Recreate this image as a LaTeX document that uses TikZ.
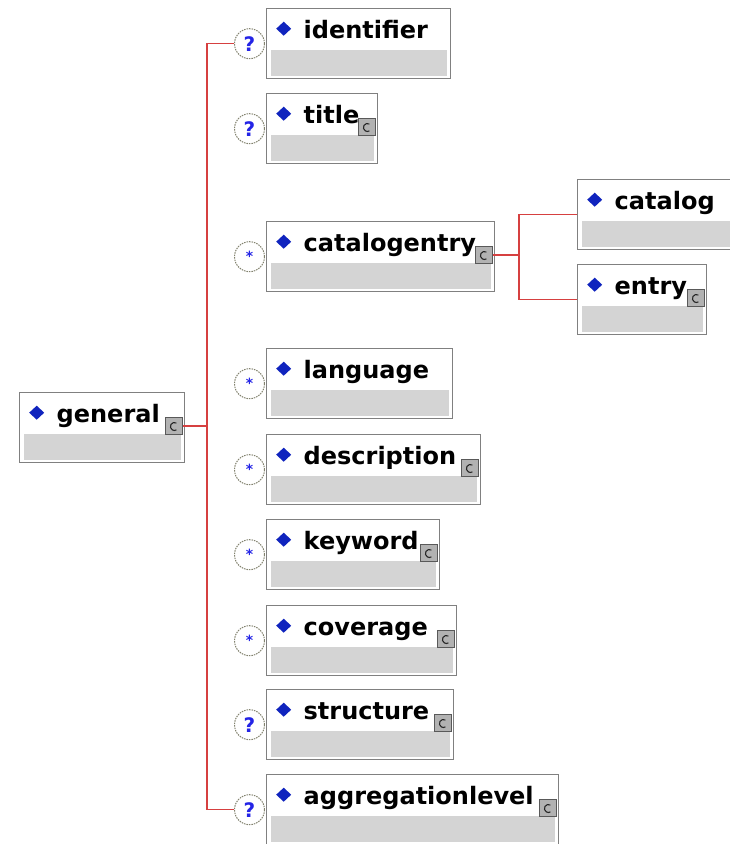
\documentclass[tikz,border=0pt]{standalone}
\usepackage{fontspec}
\setmainfont{DejaVu Sans}
\usetikzlibrary{positioning}
\definecolor{boxline}{RGB}{128,128,128}
\definecolor{boxgray}{RGB}{212,212,212}
\definecolor{dmdblue}{RGB}{16,36,190}
\definecolor{linered}{RGB}{214,64,64}
\definecolor{qblue}{RGB}{36,36,230}
\definecolor{ringgray}{RGB}{130,130,110}
\begin{document}
\begin{tikzpicture}[x=1pt, y=-1pt,
    elem/.style={draw=boxline, line width=1.4pt, fill=white, anchor=north west, inner sep=0pt,
      text width=#1, align=left, text height=30pt, text depth=40pt,
      font=\fontsize{24}{24}\selectfont\bfseries,
      execute at begin node={\hspace*{37pt}},
      path picture={
        \fill[boxgray] ([shift={(4pt,3pt)}]path picture bounding box.south west)
          rectangle ([shift={(-4pt,-41pt)}]path picture bounding box.north east);
        \fill[dmdblue] ([shift={(17pt,-13pt)}]path picture bounding box.north west)
          -- ++(7.5pt,-7pt) -- ++(-7.5pt,-7pt) -- ++(-7.5pt,7pt) -- cycle;
      }},
    cicon/.style={draw=black!65, line width=1pt, fill=black!30, minimum size=17pt, inner sep=0pt,
      path picture={
        \draw[line width=1.1pt, black!85] ([shift={(10.5pt,11.5pt)}]path picture bounding box.south west)
          arc[start angle=60, end angle=300, radius=4pt];
      }},
    ring/.style={circle, draw=ringgray, dash pattern=on 1.5pt off 1pt, line width=1pt, fill=white,
      minimum size=30pt, inner sep=0pt, text=qblue},
    qopt/.style={ring, font=\fontsize{20}{20}\selectfont\bfseries},
    sopt/.style={ring, font=\fontsize{14}{14}\selectfont\bfseries},
    tree/.style={draw=linered, line width=1.3pt}]
  \useasboundingbox (0,0) rectangle (729,844);

  % root element
  \node[elem=165pt] (gen) at (19,392) {general};
  \node[cicon, below left=25pt and 2pt of gen.north east] (genC) {};

  % children of general
  \node[elem=184pt] (ident) at (266,8) {identifier};
  \node[elem=111pt] (title) at (266,93) {title};
  \node[elem=228pt] (catent) at (266,221) {catalogentry};
  \node[elem=186pt] (lang) at (266,348) {language};
  \node[elem=214pt] (descr) at (266,434) {description};
  \node[elem=173pt] (keyw) at (266,519) {keyword};
  \node[elem=190pt] (cover) at (266,605) {coverage};
  \node[elem=187pt] (struct) at (266,689) {structure};
  \node[elem=292pt] (agg) at (266,774) {aggregationlevel};

  % children of catalogentry
  \node[elem=160pt] (catalog) at (577,179) {catalog};
  \node[elem=129pt] (entry) at (577,264) {entry};

  % complex type icons
  \node[cicon, below left=25pt and 2pt of title.north east] (titleC) {};
  \node[cicon, below left=25pt and 2pt of catent.north east] (catentC) {};
  \node[cicon, below left=25pt and 2pt of descr.north east] (descrC) {};
  \node[cicon, below left=25pt and 2pt of keyw.north east] (keywC) {};
  \node[cicon, below left=25pt and 2pt of cover.north east] (coverC) {};
  \node[cicon, below left=25pt and 2pt of struct.north east] (structC) {};
  \node[cicon, below left=25pt and 2pt of agg.north east] (aggC) {};
  \node[cicon, below left=25pt and 2pt of entry.north east] (entryC) {};

  % occurrence marks
  \node[qopt, left=1pt of ident] (identQ) {?};
  \node[qopt, left=1pt of title] (titleQ) {?};
  \node[sopt, left=1pt of catent] (catentS) {*};
  \node[sopt, left=1pt of lang] (langS) {*};
  \node[sopt, left=1pt of descr] (descrS) {*};
  \node[sopt, left=1pt of keyw] (keywS) {*};
  \node[sopt, left=1pt of cover] (coverS) {*};
  \node[qopt, left=1pt of struct] (structQ) {?};
  \node[qopt, left=1pt of agg] (aggQ) {?};

  \coordinate (trunk) at (207,0);
  \coordinate (fork) at (519,0);

  \draw[tree] (identQ.west) -| (trunk |- genC.east) |- (aggQ.west);
  \draw[tree] (genC.east) -- (trunk |- genC.east);
  \draw[tree] (catentC.east) -- (fork |- catentC.east);
  \draw[tree] (catalog.west) -| (fork |- entry.west) -- (entry.west);
\end{tikzpicture}
\end{document}
